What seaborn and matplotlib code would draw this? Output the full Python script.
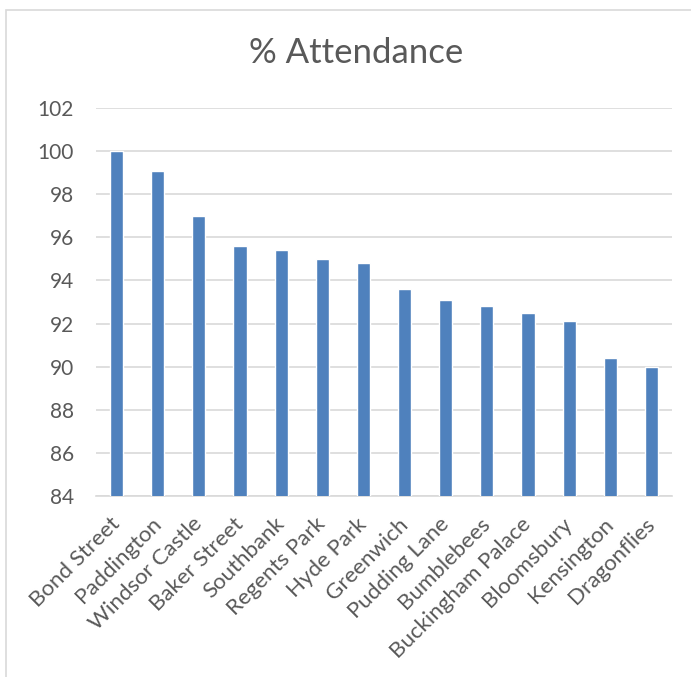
import matplotlib
matplotlib.use("Agg")
import matplotlib.pyplot as plt
import seaborn as sns
import pandas as pd
from matplotlib.patches import Rectangle

categories = ["Bond Street", "Paddington", "Windsor Castle", "Baker Street", "Southbank",
              "Regents Park", "Hyde Park", "Greenwich", "Pudding Lane", "Bumblebees",
              "Buckingham Palace", "Bloomsbury", "Kensington", "Dragonflies"]
attendance = [100.0, 99.1, 97.0, 95.6, 95.4, 95.0, 94.8, 93.6, 93.1, 92.8, 92.5, 92.1, 90.4, 90.0]
y_ticks = [84, 86, 88, 90, 92, 94, 96, 98, 100, 102]
title = "% Attendance"

df = pd.DataFrame({"Site": categories, "Attendance": attendance})

sns.set_theme(style="white")
plt.rcParams['font.family'] = ['Lato', 'DejaVu Sans']

fig = plt.figure(figsize=(6.91, 6.77), dpi=100)
ax = fig.add_axes([96/691, 1-496/677, (672-96)/691, (496-108)/677])

sns.barplot(data=df, x="Site", y="Attendance", color="#4f81bd", width=0.32,
            saturation=1, ax=ax, zorder=3)

ax.set_ylim(84, 102)
ax.set_yticks(y_ticks)
ax.set_yticklabels([str(t) for t in y_ticks], fontsize=15, color="#595959")
ax.set_xticks(range(len(categories)))
ax.set_xticklabels(categories, rotation=45, ha="right", va="center", rotation_mode="anchor",
                   fontsize=16, color="#595959")
ax.tick_params(axis="x", length=0, pad=18)
ax.tick_params(axis="y", length=0, pad=16)
ax.set_xlim(-0.5, len(categories) - 0.5)
ax.set_xlabel("")
ax.set_ylabel("")
ax.yaxis.grid(True, color="#d9d9d9", linewidth=1.2, zorder=0)
ax.set_axisbelow(True)
for s in ["top", "right", "left"]:
    ax.spines[s].set_visible(False)
ax.spines["bottom"].set_color("#d9d9d9")
ax.spines["bottom"].set_linewidth(1.2)

fig.text(356/691, 1 - 53/677, title, ha="center", va="center",
         fontsize=25, color="#595959")

fig.patches.append(Rectangle((6/691, -0.1), 1.2, 1.1 - 10/677, transform=fig.transFigure,
                             fill=False, edgecolor="#d9d9d9", linewidth=1.2))

fig.savefig("out.png", dpi=100)
